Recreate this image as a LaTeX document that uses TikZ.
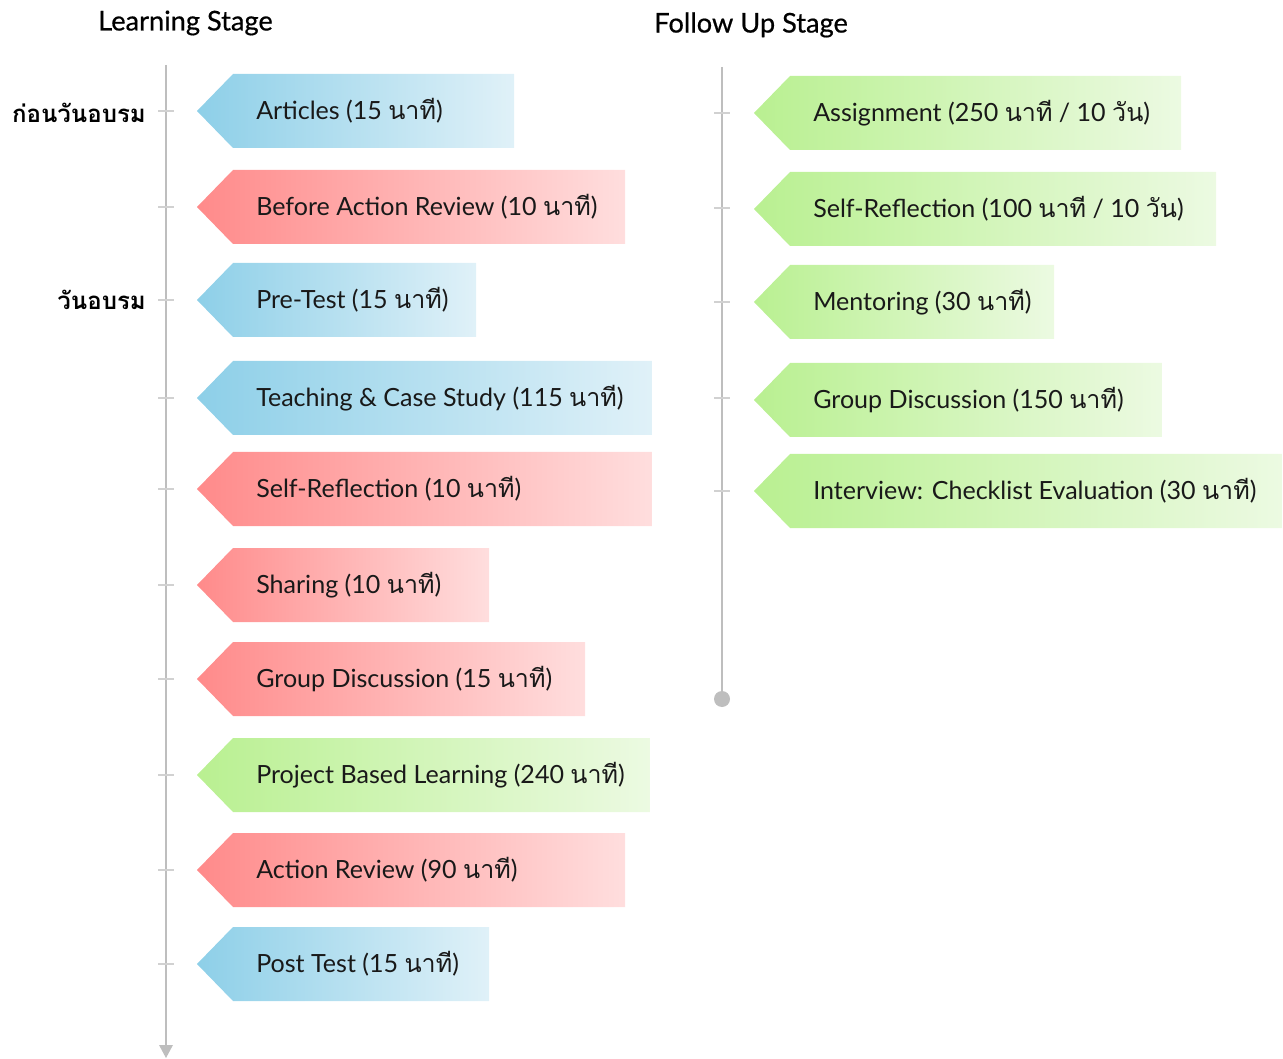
\documentclass[tikz,border=0pt]{standalone}
\usepackage{fontspec}
\setmainfont{Lato}
\newfontfamily\thaifont[Script=Thai]{Loma}
\newfontfamily\headfont[FakeBold=0.6]{Lato}
\newcommand\T[1]{{\thaifont #1}}
\definecolor{blueL}{RGB}{141,207,232}
\definecolor{blueR}{RGB}{224,241,248}
\definecolor{redL}{RGB}{255,138,138}
\definecolor{redR}{RGB}{255,222,222}
\definecolor{greenL}{RGB}{185,240,145}
\definecolor{greenR}{RGB}{236,250,226}
\definecolor{linec}{RGB}{190,190,190}
\definecolor{textc}{RGB}{25,25,25}
\tikzset{
  tagtext/.style={anchor=west, text=textc, font=\fontsize{18.8}{22}\selectfont, inner sep=0pt},
  stagelabel/.style={anchor=west, text=black, font=\headfont\fontsize{20.4}{24}\selectfont, inner sep=0pt},
  daylabel/.style={anchor=east, text=black, font=\thaifont\bfseries\fontsize{18}{22}\selectfont, inner sep=0pt},
  timeline/.style={draw=linec, line width=2pt},
  tickline/.style={draw=linec!70, line width=1pt},
}
\newcommand\mytag[7]{%
  \begin{scope}
    \clip (#2,#3) -- (#2+36,#3-37) -- (#4,#3-37) -- (#4,#3+37) -- (#2+36,#3+37) -- cycle;
    \shade[left color=#5, right color=#6] (#2-1,#3-39) rectangle (#4+1,#3+39);
  \end{scope}
  \node[tagtext] (#1) at (#2+59,#3) {#7};
}
\begin{document}
\begin{tikzpicture}[x=0.75pt,y=-0.75pt]
\useasboundingbox (0,0) rectangle (1283,1059);
% headers
\node[stagelabel] (hL) at (98,23) {Learning Stage};
\node[stagelabel] (hR) at (654,25) {Follow Up Stage};
% timelines
\coordinate (lT) at (166,65);
\coordinate (lB) at (166,1046);
\coordinate (rT) at (722,67);
\coordinate (rB) at (722,699);
\draw[timeline] (lT) -- (lB);
\fill[linec] (159,1045) -- (173,1045) -- (166,1058) -- cycle;
\draw[timeline] (rT) -- (rB);
\fill[linec] (rB) circle (8);
% ticks
\foreach \y in {111,207,300,398,489,585,679,775,870,964} {\draw[tickline] (158,\y) -- (174,\y);}
\foreach \y in {113,208,302,398,491} {\draw[tickline] (714,\y) -- (730,\y);}
% day labels
\node[daylabel] (d1) at (146,113) {ก่อนวันอบรม};
\node[daylabel] (d2) at (146,300) {วันอบรม};
% left tags
\mytag{a1}{197}{111}{514}{blueL}{blueR}{Articles (15 \T{นาที})}
\mytag{a2}{197}{207}{625}{redL}{redR}{Before Action Review (10 \T{นาที})}
\mytag{a3}{197}{300}{476}{blueL}{blueR}{Pre-Test (15 \T{นาที})}
\mytag{a4}{197}{398}{652}{blueL}{blueR}{Teaching \& Case Study (115 \T{นาที})}
\mytag{a5}{197}{489}{652}{redL}{redR}{Self-Reflection (10 \T{นาที})}
\mytag{a6}{197}{585}{489}{redL}{redR}{Sharing (10 \T{นาที})}
\mytag{a7}{197}{679}{585}{redL}{redR}{Group Discussion (15 \T{นาที})}
\mytag{a8}{197}{775}{650}{greenL}{greenR}{Project Based Learning (240 \T{นาที})}
\mytag{a9}{197}{870}{625}{redL}{redR}{Action Review (90 \T{นาที})}
\mytag{a10}{197}{964}{489}{blueL}{blueR}{Post Test (15 \T{นาที})}
% right tags
\mytag{b1}{754}{113}{1181}{greenL}{greenR}{Assignment (250 \T{นาที} / 10 \T{วัน})}
\mytag{b2}{754}{209}{1216}{greenL}{greenR}{Self-Reflection (100 \T{นาที} / 10 \T{วัน})}
\mytag{b3}{754}{302}{1054}{greenL}{greenR}{Mentoring (30 \T{นาที})}
\mytag{b4}{754}{400}{1162}{greenL}{greenR}{Group Discussion (150 \T{นาที})}
\mytag{b5}{754}{491}{1282}{greenL}{greenR}{Interview: Checklist Evaluation (30 \T{นาที})}
\end{tikzpicture}
\end{document}
